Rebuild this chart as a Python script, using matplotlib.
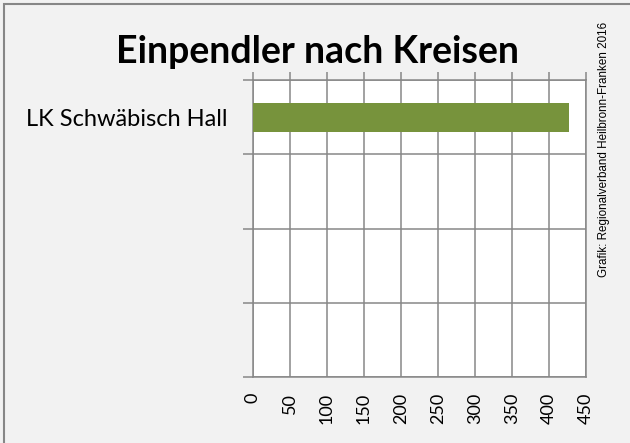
import matplotlib
matplotlib.use("Agg")
import matplotlib.pyplot as plt
from matplotlib.patches import Rectangle

# data
kreise = ["LK Schwäbisch Hall", "", "", ""]
einpendler = [427]
x_ticks = [0, 50, 100, 150, 200, 250, 300, 350, 400, 450]

grid_col = "#878787"
bar_col = "#77933C"
bg_col = "#F2F2F2"

plt.rcParams["font.family"] = ["Lato", "DejaVu Sans"]

fig = plt.figure(figsize=(6.3, 4.43), dpi=100)
fig.patch.set_facecolor(bg_col)
ax = fig.add_axes([253 / 630, 1 - 377 / 443, 333 / 630, 297 / 443])
ax.set_facecolor("white")

ax.barh(range(len(einpendler)), einpendler, height=0.39, color=bar_col, zorder=3)

ax.set_xlim(0, 450)
ax.set_ylim(len(kreise) - 0.5, -0.5)

# x axis: ticks on top, labels at bottom, rotated
ax.set_xticks(x_ticks)
ax.set_xticklabels([str(v) for v in x_ticks], rotation=90, fontsize=13)
ax.tick_params(axis="x", which="major", bottom=False, top=True, labelbottom=True,
               labeltop=False, length=5.5, width=1.1, color=grid_col, pad=6,
               direction="out")
for lab in ax.get_xticklabels():
    lab.set_va("top")

# y axis: boundaries as major ticks, category names as minor
bounds = [i - 0.5 for i in range(len(kreise) + 1)]
ax.set_yticks(bounds)
ax.set_yticklabels([])
ax.tick_params(axis="y", which="major", length=7, width=1.1, color=grid_col, direction="out")
ax.set_yticks(range(len(kreise)), minor=True)
ax.set_yticklabels(kreise, minor=True, fontsize=17)
ax.tick_params(axis="y", which="minor", length=0, pad=18)

ax.grid(True, which="major", color=grid_col, linewidth=1.1, zorder=1)
ax.set_axisbelow(True)
for s in ax.spines.values():
    s.set_color(grid_col)
    s.set_linewidth(1.1)

fig.text(318 / 630, 1 - 52 / 443, "Einpendler nach Kreisen", ha="center", va="center",
         fontsize=27, fontweight="bold")
fig.text(604 / 630, 1 - 149 / 443, "Grafik: Regionalverband Heilbronn-Franken 2016",
         rotation=90, ha="center", va="center", fontsize=8.4, family="Liberation Sans")

# outer frame (only left and top edge visible in the crop)
fig.patches.append(Rectangle((4 / 630, -0.2), 1.5, 1.2 - 4 / 443, transform=fig.transFigure,
                             fill=False, edgecolor=grid_col, linewidth=1.5))

fig.savefig("out.png", dpi=100, facecolor=bg_col)
